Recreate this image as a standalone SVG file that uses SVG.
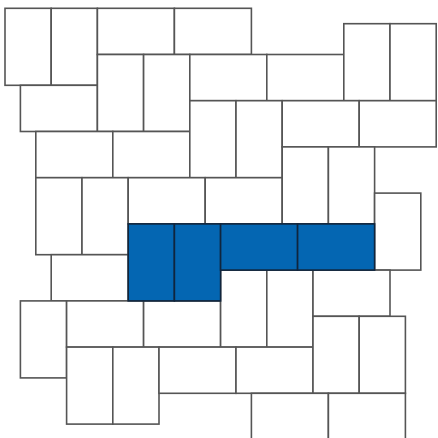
<svg xmlns="http://www.w3.org/2000/svg" width="438" height="438" viewBox="0 0 438 438">
<style>
rect{stroke-width:1.6;stroke-linejoin:miter}
.t{fill:#ffffff;stroke:#555555}
.b{fill:#0466b2;stroke:#10253d}
</style>
<rect width="438" height="438" fill="#ffffff"/>
<g id="tiles">
<g id="t1"><rect class="t" x="5" y="8.3" width="46.2" height="77"/></g>
<g id="t2"><rect class="t" x="51.2" y="8.3" width="46.2" height="77"/></g>
<g id="t3"><rect class="t" x="97.4" y="8.3" width="77" height="46.2"/></g>
<g id="t4"><rect class="t" x="174.4" y="8.3" width="77" height="46.2"/></g>
<g id="t5"><rect class="t" x="20.4" y="85.3" width="77" height="46.2"/></g>
<g id="t6"><rect class="t" x="97.4" y="54.5" width="46.2" height="77"/></g>
<g id="t7"><rect class="t" x="143.6" y="54.5" width="46.2" height="77"/></g>
<g id="t8"><rect class="t" x="189.8" y="54.5" width="77" height="46.2"/></g>
<g id="t9"><rect class="t" x="266.8" y="54.5" width="77" height="46.2"/></g>
<g id="t10"><rect class="t" x="343.8" y="23.7" width="46.2" height="77"/></g>
<g id="t11"><rect class="t" x="390" y="23.7" width="46.2" height="77"/></g>
<g id="t12"><rect class="t" x="35.8" y="131.5" width="77" height="46.2"/></g>
<g id="t13"><rect class="t" x="112.8" y="131.5" width="77" height="46.2"/></g>
<g id="t14"><rect class="t" x="189.8" y="100.7" width="46.2" height="77"/></g>
<g id="t15"><rect class="t" x="236" y="100.7" width="46.2" height="77"/></g>
<g id="t16"><rect class="t" x="282.2" y="100.7" width="77" height="46.2"/></g>
<g id="t17"><rect class="t" x="359.2" y="100.7" width="77" height="46.2"/></g>
<g id="t18"><rect class="t" x="35.8" y="177.7" width="46.2" height="77"/></g>
<g id="t19"><rect class="t" x="82" y="177.7" width="46.2" height="77"/></g>
<g id="t20"><rect class="t" x="128.2" y="177.7" width="77" height="46.2"/></g>
<g id="t21"><rect class="t" x="205.2" y="177.7" width="77" height="46.2"/></g>
<g id="t22"><rect class="t" x="282.2" y="146.9" width="46.2" height="77"/></g>
<g id="t23"><rect class="t" x="328.4" y="146.9" width="46.2" height="77"/></g>
<g id="t24"><rect class="t" x="374.6" y="193.1" width="46.2" height="77"/></g>
<g id="t25"><rect class="t" x="51.2" y="254.7" width="77" height="46.2"/></g>
<g id="t30"><rect class="t" x="20.4" y="300.9" width="46.2" height="77"/></g>
<g id="t31"><rect class="t" x="66.6" y="300.9" width="77" height="46.2"/></g>
<g id="t32"><rect class="t" x="143.6" y="300.9" width="77" height="46.2"/></g>
<g id="t33"><rect class="t" x="220.6" y="270.1" width="46.2" height="77"/></g>
<g id="t34"><rect class="t" x="266.8" y="270.1" width="46.2" height="77"/></g>
<g id="t35"><rect class="t" x="313" y="270.1" width="77" height="46.2"/></g>
<g id="t36"><rect class="t" x="66.6" y="347.1" width="46.2" height="77"/></g>
<g id="t37"><rect class="t" x="112.8" y="347.1" width="46.2" height="77"/></g>
<g id="t38"><rect class="t" x="159" y="347.1" width="77" height="46.2"/></g>
<g id="t39"><rect class="t" x="236" y="347.1" width="77" height="46.2"/></g>
<g id="t40"><rect class="t" x="313" y="316.3" width="46.2" height="77"/></g>
<g id="t41"><rect class="t" x="359.2" y="316.3" width="46.2" height="77"/></g>
<g id="t42"><rect class="t" x="251.4" y="393.3" width="77" height="46.2"/></g>
<g id="t43"><rect class="t" x="328.4" y="393.3" width="77" height="46.2"/></g>
<g id="b1"><rect class="b" x="128.2" y="223.9" width="46.2" height="77"/></g>
<g id="b2"><rect class="b" x="174.4" y="223.9" width="46.2" height="77"/></g>
<g id="b3"><rect class="b" x="220.6" y="223.9" width="77" height="46.2"/></g>
<g id="b4"><rect class="b" x="297.6" y="223.9" width="77" height="46.2"/></g>
</g>
</svg>
